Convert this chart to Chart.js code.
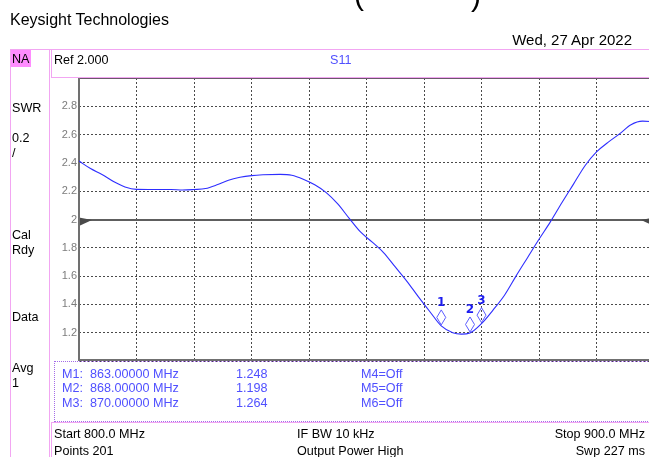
<!DOCTYPE html>
<html><head><meta charset="utf-8">
<script src="https://cdn.jsdelivr.net/npm/chart.js@4/dist/chart.umd.min.js"></script>
<style>
html,body{margin:0;padding:0;width:649px;height:457px;overflow:hidden;background:#fff;font-family:"Liberation Sans",Arial,sans-serif;}
.t{position:absolute;white-space:nowrap;font-size:12.6px;line-height:15px;color:#000;}
.b{color:#5050ff;}
.pk{position:absolute;background:#f2a6f2;}
#c{position:absolute;left:0;top:0;}
</style></head><body>
<canvas id="c" width="700" height="457"></canvas>

<div class="t" style="left:354px;top:-20.4px;font-size:30px;line-height:30px;">(</div>
<div class="t" style="left:471px;top:-19px;font-size:30px;line-height:30px;">)</div>
<div class="t" style="left:10px;top:10.5px;font-size:16px;line-height:18px;">Keysight Technologies</div>
<div class="t" style="right:17px;top:30.6px;font-size:15px;line-height:17px;">Wed, 27 Apr 2022</div>

<!-- pink frames -->
<div class="pk" style="left:10px;top:49px;width:639px;height:1px;"></div>
<div class="pk" style="left:10px;top:49px;width:1px;height:408px;"></div>
<div class="pk" style="left:49px;top:49px;width:1px;height:408px;"></div>
<div class="pk" style="left:51px;top:49px;width:1px;height:29px;"></div>
<div class="pk" style="left:51px;top:77px;width:598px;height:1px;"></div>
<div class="pk" style="left:51px;top:422px;width:598px;height:1px;"></div>
<div class="pk" style="left:51px;top:422px;width:1px;height:35px;"></div>
<div style="position:absolute;left:11px;top:50px;width:20px;height:17px;background:#ff8cff;"></div>
<div style="position:absolute;left:54px;top:361px;width:620px;height:59px;border:1px dotted #a46ce8;"></div>

<div class="t" style="left:12px;top:52px;">NA</div>
<div class="t" style="left:54px;top:52.6px;">Ref 2.000</div>
<div class="t b" style="left:330px;top:52.6px;">S11</div>
<div class="t" style="left:12px;top:100.6px;">SWR</div>
<div class="t" style="left:12px;top:130.6px;">0.2</div>
<div class="t" style="left:12px;top:145.6px;">/</div>
<div class="t" style="left:12px;top:227.6px;">Cal</div>
<div class="t" style="left:12px;top:242.6px;">Rdy</div>
<div class="t" style="left:12px;top:309.6px;">Data</div>
<div class="t" style="left:12px;top:360.6px;">Avg</div>
<div class="t" style="left:12px;top:375.6px;">1</div>

<div id="mk"></div>

<div class="t" style="left:54px;top:426.6px;">Start 800.0 MHz</div>
<div class="t" style="left:297px;top:426.6px;">IF BW 10 kHz</div>
<div class="t" style="right:4px;top:426.6px;">Stop 900.0 MHz</div>
<div class="t" style="left:54px;top:444.3px;">Points 201</div>
<div class="t" style="left:297px;top:444.3px;">Output Power High</div>
<div class="t" style="right:4px;top:444.3px;">Swp 227 ms</div>

<script>
// ---- data ----
const freqMHz = [800,802,804,806,808,810,813,816,818,820,822,824,826,828,830,832,835,837,839,841,843,845,847,849,851,853,855,857,859,861,863,865,866.5,868,870,872,874,876,878,880,882,884,886,888,890,892,894,896,898,900];
const swr = [2.413,2.36,2.318,2.268,2.23,2.213,2.212,2.212,2.208,2.212,2.219,2.245,2.278,2.298,2.31,2.316,2.319,2.313,2.285,2.245,2.19,2.11,2.008,1.91,1.84,1.765,1.665,1.565,1.455,1.35,1.248,1.2,1.19,1.198,1.264,1.36,1.465,1.6,1.73,1.86,1.985,2.12,2.25,2.38,2.478,2.545,2.605,2.67,2.695,2.69];
const markerNames = ['1','2','3'];
const markerFreqs = [863, 868, 870];
const markerVals = [1.248, 1.198, 1.264];
const offMarkers = ['M4=Off','M5=Off','M6=Off'];
const refLevel = 2.0;
const yMin = 1.0, yMax = 3.0, yStep = 0.2;
const xMin = 800, xMax = 900, xStep = 10;

// marker readout text
const mk = document.getElementById('mk');
const rowTops = [366.6, 381, 396];
markerFreqs.forEach((f,i)=>{
  const add=(txt,left)=>{const d=document.createElement('div');d.className='t b';d.style.left=left+'px';d.style.top=rowTops[i]+'px';d.textContent=txt;mk.appendChild(d);};
  add('M'+markerNames[i]+':', 62);
  add(f.toFixed(5)+' MHz', 90);
  add(markerVals[i].toFixed(3), 236);
  add(offMarkers[i], 361);
});

const framePlugin = {
  id:'frame',
  beforeDatasetsDraw(chart){
    const {ctx, chartArea:a, scales:{y}} = chart;
    const ry = Math.round(y.getPixelForValue(refLevel));
    ctx.save();
    // reference line
    ctx.strokeStyle='#5e5e5e'; ctx.lineWidth=2;
    ctx.beginPath(); ctx.moveTo(a.left, ry); ctx.lineTo(a.right, ry); ctx.stroke();
    ctx.fillStyle='#4a4a4a';
    ctx.beginPath(); ctx.moveTo(a.left, ry-2.5); ctx.lineTo(a.left+13, ry); ctx.lineTo(a.left, ry+6); ctx.closePath(); ctx.fill();
    ctx.beginPath(); ctx.moveTo(a.right, ry-2.5); ctx.lineTo(a.right-13, ry); ctx.lineTo(a.right, ry+6); ctx.closePath(); ctx.fill();
    // frame
    ctx.lineWidth=2;
    ctx.strokeStyle='#6a5a6a';
    ctx.beginPath(); ctx.moveTo(a.left-1, Math.round(a.top)); ctx.lineTo(a.right, Math.round(a.top)); ctx.stroke();
    ctx.strokeStyle='#707070';
    ctx.beginPath(); ctx.moveTo(a.left, a.top); ctx.lineTo(a.left, a.bottom); ctx.stroke();
    ctx.beginPath(); ctx.moveTo(a.left-1, Math.round(a.bottom)-1); ctx.lineTo(a.right, Math.round(a.bottom)-1); ctx.stroke();
    ctx.restore();
  },
  afterDatasetsDraw(chart){
    const {ctx, scales:{x,y}} = chart;
    ctx.save();
    markerFreqs.forEach((f,i)=>{
      const px = x.getPixelForValue(f), py = y.getPixelForValue(markerVals[i]);
      ctx.strokeStyle='#5c5cff'; ctx.lineWidth=1;
      ctx.beginPath();
      ctx.moveTo(px, py-1); ctx.lineTo(px+4.5, py-8.5); ctx.lineTo(px, py-16); ctx.lineTo(px-4.5, py-8.5); ctx.closePath();
      ctx.stroke();
      ctx.fillStyle='#1c1cf0';
      ctx.font='bold 12px "DejaVu Sans", sans-serif';
      ctx.textAlign='center'; ctx.textBaseline='middle';
      ctx.fillText(markerNames[i], px, py-23);
    });
    ctx.restore();
  }
};

new Chart(document.getElementById('c'), {
  type:'line',
  data:{datasets:[{
    data: freqMHz.map((f,i)=>({x:f, y:swr[i]})),
    borderColor:'#2e2eff', borderWidth:1.1, pointRadius:0,
    cubicInterpolationMode:'monotone', fill:false
  }]},
  options:{
    responsive:false, animation:false, devicePixelRatio:1,
    layout:{padding:{top:78, bottom:96, left:0, right:46}},
    plugins:{legend:{display:false}, tooltip:{enabled:false}},
    scales:{
      x:{type:'linear', min:xMin, max:xMax,
        ticks:{display:false, stepSize:xStep},
        grid:{color:'#4a4a4a', drawTicks:false, lineWidth:1},
        border:{display:false, dash:[2,2]},
        afterFit(s){ s.height=0; }
      },
      y:{type:'linear', min:yMin, max:yMax,
        ticks:{stepSize:yStep, padding:2, color:'#7c7c7c',
          font:{family:'"Liberation Sans", Arial, sans-serif', size:11},
          callback(v){ const r=Math.round(v*10)/10; if(r===yMin||r===yMax) return ''; return r===2?'2':r.toFixed(1); }},
        grid:{color:'#4a4a4a', drawTicks:false, lineWidth:1},
        border:{display:false, dash:[2,2]},
        afterFit(s){ s.width=79; }
      }
    }
  },
  plugins:[framePlugin]
});
</script>
</body></html>
